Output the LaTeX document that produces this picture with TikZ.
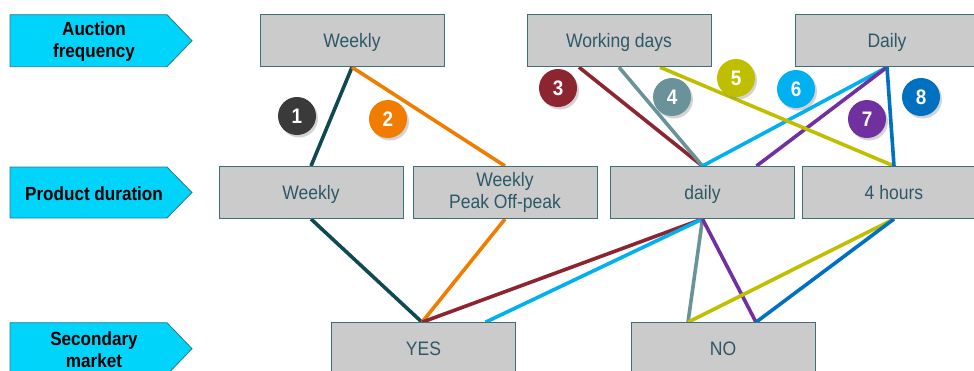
\documentclass[tikz,border=0pt]{standalone}
\usepackage{fontspec}
\setmainfont[FakeStretch=0.9]{Liberation Sans}
\usetikzlibrary{shadows,backgrounds}
\definecolor{boxfill}{HTML}{CBCBCB}
\definecolor{boxline}{HTML}{3E6E78}
\definecolor{boxtext}{HTML}{2D5868}
\definecolor{cyanfill}{HTML}{00D4FA}
\definecolor{cyanline}{HTML}{2A7A8A}
\definecolor{cA}{HTML}{0F4A53}
\definecolor{cB}{HTML}{F07D00}
\definecolor{cC}{HTML}{8C2530}
\definecolor{cD}{HTML}{6A9299}
\definecolor{cE}{HTML}{BFBF00}
\definecolor{cF}{HTML}{00B0F0}
\definecolor{cG}{HTML}{7030A0}
\definecolor{cH}{HTML}{0070C0}
\definecolor{cN}{HTML}{3A3A3A}
\tikzset{
  optbox/.style={draw=boxline, line width=1pt, fill=boxfill, minimum width=184pt, minimum height=52pt, inner sep=0pt, text=boxtext, align=center, font=\fontsize{19.5}{22}\selectfont},
  oneline/.style={text height=18.5pt, text depth=4pt},
  rowarrow/.style={draw=cyanline, line width=0.8pt, fill=cyanfill},
  rowlabel/.style={align=center, text=black, font=\fontsize{19}{22}\selectfont\bfseries},
  link/.style={line width=3.6pt},
  badge/.style={circle, minimum size=38pt, inner sep=0pt, text=white, font=\fontsize{21}{21}\selectfont\bfseries, drop shadow={shadow xshift=2pt, shadow yshift=-2.5pt, opacity=0.35}}
}
\begin{document}
\begin{tikzpicture}[x=1pt,y=-1pt]
\useasboundingbox (0,0) rectangle (974,370);
% row arrows
\draw[rowarrow] (10,14.7) -- (167,14.7) -- (192,40.7) -- (167,66.7) -- (10,66.7) -- cycle;
\draw[rowarrow] (10,167) -- (167,167) -- (192,192.5) -- (167,218) -- (10,218) -- cycle;
\draw[rowarrow] (10,322.7) -- (167,322.7) -- (192,348.7) -- (167,374.7) -- (10,374.7) -- cycle;
\node[rowlabel] (lab1) at (94,41.5) {Auction\\frequency};
\node[rowlabel] (lab2) at (94,193.5) {Product duration};
\node[rowlabel] (lab3) at (94,349.5) {Secondary\\market};
% boxes
\node[optbox, oneline] (wk1) at (352,40.7) {Weekly};
\node[optbox, oneline] (wd) at (619,40.7) {Working days};
\node[optbox, oneline] (dly) at (887,40.7) {Daily};
\node[optbox, oneline] (wk2) at (311,192.5) {Weekly};
\node[optbox] (wpo) at (505,192.5) {Weekly\\Peak Off-peak};
\node[optbox, oneline] (dl2) at (702.5,192.5) {daily};
\node[optbox, oneline] (h4) at (894,192.5) {4 hours};
\node[optbox, oneline] (yes) at (423.5,348.7) {YES};
\node[optbox, oneline] (no) at (723,348.7) {NO};
% connectors
\begin{scope}[on background layer]
\draw[link, cA] (wk1.south) -- (wk2.north);
\draw[link, cB] (wk1.south) -- (wpo.north);
\draw[link, cC] ([xshift=-40pt]wd.south) -- (dl2.north);
\draw[link, cD] (wd.south) -- (dl2.north);
\draw[link, cF] (dly.south) -- (dl2.north);
\draw[link, cG] (dly.south) -- ([xshift=54pt]dl2.north);
\draw[link, cE] ([xshift=41pt]wd.south) -- (h4.north);
\draw[link, cH] (dly.south) -- (h4.north);
\draw[link, cA] (wk2.south) -- ([xshift=-1.5pt]yes.north);
\draw[link, cB] (wpo.south) -- ([xshift=-1.5pt]yes.north);
\draw[link, cC] (dl2.south) -- ([xshift=-1.5pt]yes.north);
\draw[link, cF] (dl2.south) -- ([xshift=62pt]yes.north);
\draw[link, cD] (dl2.south) -- ([xshift=-35pt]no.north);
\draw[link, cG] (dl2.south) -- ([xshift=33pt]no.north);
\draw[link, cE] (h4.south) -- ([xshift=-35pt]no.north);
\draw[link, cH] (h4.south) -- ([xshift=33pt]no.north);
\end{scope}
% badges
\node[badge, fill=cN] (n1) at (297,116) {1};
\node[badge, fill=cB] (n2) at (388,119) {2};
\node[badge, fill=cC] (n3) at (558,88) {3};
\node[badge, fill=cD] (n4) at (672,97) {4};
\node[badge, fill=cE] (n5) at (736,78) {5};
\node[badge, fill=cF] (n6) at (796,89) {6};
\node[badge, fill=cG] (n7) at (867,119) {7};
\node[badge, fill=cH] (n8) at (921,97) {8};
\end{tikzpicture}
\end{document}
